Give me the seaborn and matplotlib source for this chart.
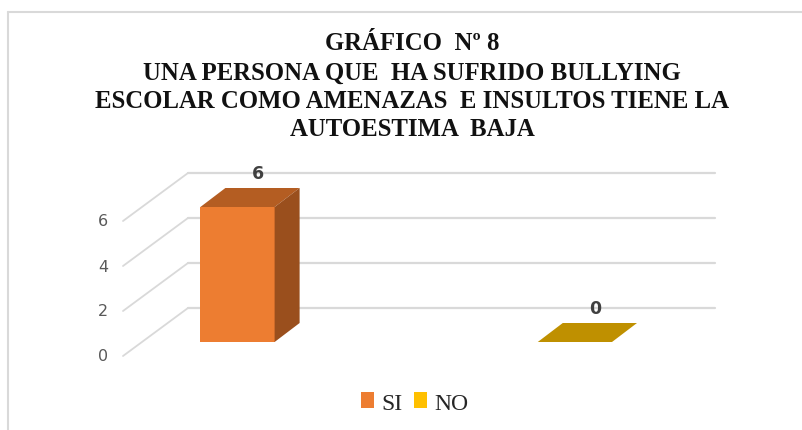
import matplotlib
matplotlib.use("Agg")
import matplotlib.pyplot as plt
import matplotlib.transforms as mtransforms
from matplotlib.patches import Polygon, Patch
from matplotlib.lines import Line2D
import seaborn as sns
import pandas as pd

# data
categories = ["SI", "NO"]
values = [6, 0]
y_ticks = [0, 2, 4, 6]
title_lines = [
    "GRÁFICO  Nº 8",
    "UNA PERSONA QUE  HA SUFRIDO BULLYING",
    "ESCOLAR COMO AMENAZAS  E INSULTOS TIENE LA",
    "AUTOESTIMA  BAJA",
]

front_colors = {"SI": "#ED7D31", "NO": "#FFC000"}
top_colors = {"SI": "#B45D22", "NO": "#BF9000"}
side_colors = {"SI": "#9A4F1D", "NO": "#9A7400"}

DPI = 100
W, H = 803, 431

sns.set_theme(style="white")
plt.rcParams["font.family"] = ["Liberation Sans", "DejaVu Sans"]

df = pd.DataFrame({"cat": categories, "val": values})

fig = plt.figure(figsize=(W / DPI, H / DPI), dpi=DPI)
fig.patch.set_facecolor("white")
# axes = front plane of the bars, in pixels: x 141..668, base y 343
ax = fig.add_axes([141 / W, (H - 343) / H, 527 / W, 157.5 / H])
ax.patch.set_alpha(0)

sns.barplot(data=df, x="cat", y="val", hue="cat", palette=front_colors,
            width=0.22, dodge=False, legend=False, ax=ax, saturation=1)

ax.set_xlim(-0.286, 1.276)
ax.set_ylim(0, 7)
ax.set_yticks(y_ticks)
ax.set_xticks([])
ax.set_yticklabels([])
ax.set_xlabel("")
ax.set_ylabel("")
ax.tick_params(left=False, bottom=False)
for s in ax.spines.values():
    s.set_visible(False)
ax.grid(False)


def shifted(base, dx, dy):
    # offset a transform by pixels (up is positive)
    return base + mtransforms.ScaledTranslation(dx / DPI, dy / DPI, fig.dpi_scale_trans)


BACK = (47, 34)
FRONT = (-18, -14)
DEPTH = (25, 19)
grid_c = "#D9D9D9"

# back wall gridlines and the side diagonals
x_left = ax.get_xlim()[0]
for t in y_ticks:
    ax.plot(ax.get_xlim(), [t, t], color=grid_c, lw=1.6, clip_on=False,
            transform=shifted(ax.transData, *BACK), zorder=0)
    p = ax.transData.transform((x_left, t))
    ln = Line2D([p[0] + FRONT[0], p[0] + BACK[0]], [p[1] + FRONT[1], p[1] + BACK[1]],
                color=grid_c, lw=1.3, transform=mtransforms.IdentityTransform(), zorder=2)
    fig.add_artist(ln)
    ax.text(0, t, str(t), transform=shifted(ax.get_yaxis_transform(), -38, -14),
            ha="center", va="center", fontsize=11.5, color="#595959",
            family=["Liberation Sans Narrow", "DejaVu Sans"])

# 3D faces of the bars
for bar, cat, v in zip(ax.patches, categories, values):
    x0, w, h = bar.get_x(), bar.get_width(), bar.get_height()
    bar.set_edgecolor("none")
    bar.set_zorder(3)
    tl, tr, br = ax.transData.transform([(x0, h), (x0 + w, h), (x0 + w, 0)])
    dx, dy = DEPTH
    top = Polygon([tl, tr, (tr[0] + dx, tr[1] + dy), (tl[0] + dx, tl[1] + dy)],
                  closed=True, facecolor=top_colors[cat], edgecolor="none",
                  transform=mtransforms.IdentityTransform(), zorder=3)
    fig.add_artist(top)
    if h > 0:
        side = Polygon([br, tr, (tr[0] + dx, tr[1] + dy), (br[0] + dx, br[1] + dy)],
                       closed=True, facecolor=side_colors[cat], edgecolor="none",
                       transform=mtransforms.IdentityTransform(), zorder=3)
        fig.add_artist(side)
    ax.annotate(str(v), (x0 + w / 2, h), xytext=(14.4, 24.5), textcoords="offset points",
                ha="center", va="center", fontsize=12.5, fontweight="bold", color="#404040",
                family=["Liberation Sans Narrow", "DejaVu Sans"], annotation_clip=False)

# title
title_y = [44, 73, 101.5, 130]
for line, yy in zip(title_lines, title_y):
    fig.text(412 / W, 1 - yy / H, line, ha="center", va="center", fontsize=17.8,
             fontweight="bold", family=["Liberation Serif", "DejaVu Serif"], color="#111111")

# legend
handles = [Patch(facecolor=front_colors[c], edgecolor="none", label=c) for c in categories]
fig.legend(handles=handles, loc="center", bbox_to_anchor=(415 / W, 1 - 404 / H), ncol=2,
           frameon=False, handlelength=0.55, handleheight=0.65, handletextpad=0.3,
           columnspacing=0.5, prop={"family": ["Liberation Serif", "DejaVu Serif"], "size": 17})

# chart border
border_c = "#D9D9D9"
fig.add_artist(Line2D([8 / W, 1], [1 - 13 / H, 1 - 13 / H], color=border_c, lw=1.5,
                      transform=fig.transFigure))
fig.add_artist(Line2D([8 / W, 8 / W], [0, 1 - 13 / H], color=border_c, lw=1.5,
                      transform=fig.transFigure))

fig.savefig("out.png", dpi=DPI)
